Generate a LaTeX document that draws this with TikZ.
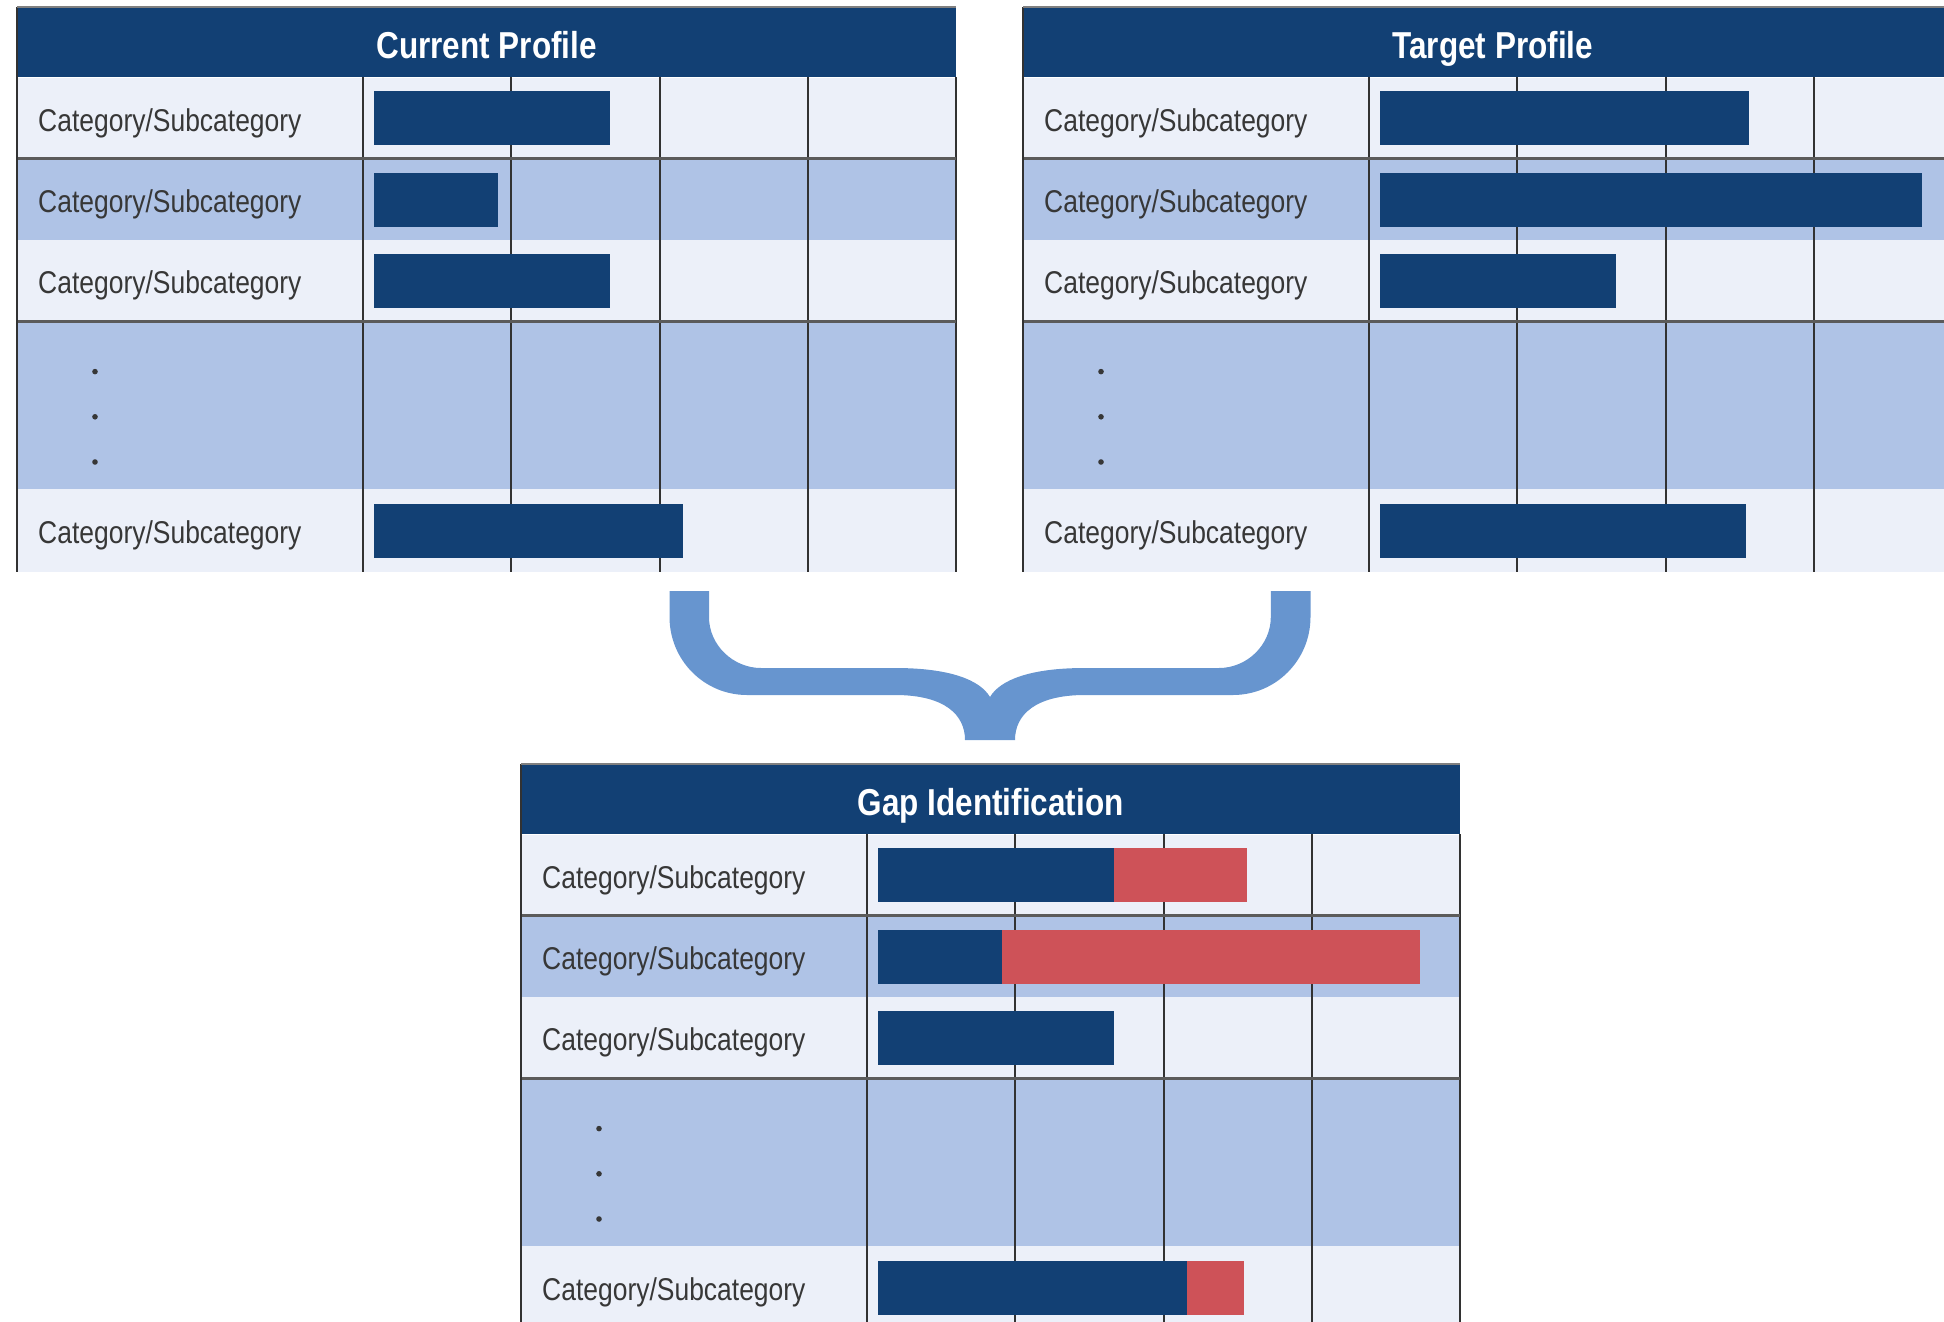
\documentclass[tikz,border=0pt]{standalone}
\usepackage{fontspec}
\setmainfont[FakeStretch=0.84]{Liberation Sans}
\usepackage{tikz}
\usepackage{xcolor}
\usetikzlibrary{positioning, calc}
\definecolor{navy}{RGB}{18,64,116}
\definecolor{rowlight}{RGB}{236,240,249}
\definecolor{rowmid}{RGB}{175,195,230}
\definecolor{gapred}{RGB}{206,82,88}
\definecolor{bracecol}{RGB}{103,149,207}
\definecolor{gridcol}{RGB}{50,50,50}
\definecolor{labelcol}{RGB}{55,55,55}
\tikzset{
  headbox/.style={rectangle,fill=navy,minimum width=939pt,minimum height=70pt,inner sep=0pt,
    text height=33pt,text depth=0pt,text=white,font=\bfseries\fontsize{37.5}{40}\selectfont},
  rowlt/.style={rectangle,fill=rowlight,minimum width=939pt,minimum height=81pt,inner sep=0pt},
  rowmd/.style={rowlt,fill=rowmid},
  catlabel/.style={inner sep=0pt,text height=26pt,text depth=0pt,text=labelcol,
    font=\fontsize{31.5}{34}\selectfont},
  gridline/.style={line width=2pt,gridcol},
  sepline/.style={line width=3pt,gridcol!80},
  topline/.style={line width=2pt,gray},
  barblue/.style={fill=navy},
  bargap/.style={fill=gapred},
}

\begin{document}
\begin{tikzpicture}[x=1pt,y=1pt,node distance=0pt]
  \useasboundingbox (0,0) rectangle (1944,-1322);
  \clip (0,0) rectangle (1944,-1322);
  % the three profile tables
  \foreach \t/\x/\y/\ttl in {cur/17/-7/Current Profile, tgt/1023/-7/Target Profile, gap/521/-764/Gap Identification} {
    \node[headbox,anchor=north west] (\t-head) at (\x,\y) {\ttl};
    \node[rowlt,below=of \t-head] (\t-r1) {};
    \node[rowmd,below=of \t-r1] (\t-r2) {};
    \node[rowlt,below=of \t-r2] (\t-r3) {};
    \node[rowmd,minimum height=167pt,below=of \t-r3] (\t-dots) {};
    \node[rowlt,minimum height=83pt,below=of \t-dots] (\t-r4) {};
    \foreach \r in {r1,r2,r3,r4}
      \node[catlabel,right=21pt of \t-\r.west] (\t-\r-lbl) {Category/Subcategory};
    \foreach \d in {0,1,2}
      \fill[labelcol] ($(\t-dots.north west)+(78,-50-45.2*\d)$) circle (2.8);
    \foreach \k in {0,...,4}
      \draw[gridline] ($(\t-r1.north west)+(346+148.25*\k,0)$) -- ($(\t-r4.south west)+(346+148.25*\k,0)$);
    \draw[sepline] (\t-r1.south west) -- (\t-r1.south east);
    \draw[sepline] (\t-r3.south west) -- (\t-r3.south east);
    \draw[gridline] (\t-head.north west) -- (\t-r4.south west);
    \draw[topline] (\t-head.north west) -- (\t-head.north east);
  }
  % bars: current, target, and current part of the gap
  \foreach \t/\r/\len in {cur/r1/236, cur/r2/124, cur/r3/236, cur/r4/309,
                          tgt/r1/369, tgt/r2/542, tgt/r3/236, tgt/r4/366,
                          gap/r1/236, gap/r2/124, gap/r3/236, gap/r4/309}
    \fill[barblue] ($(\t-\r.west)+(357,-27)$) rectangle ++(\len,54);
  \foreach \r/\from/\len in {r1/236/133, r2/124/418, r4/309/57}
    \fill[bargap] ($(gap-\r.west)+(357+\from,-27)$) rectangle ++(\len,54);
  % brace joining the two profiles
  \fill[bracecol] (669.5,-591) -- (669.5,-617)
    .. controls (669.5,-660) and (704,-695) .. (747,-695) -- (895,-695)
    .. controls (945,-695) and (965,-715) .. (965,-740) -- (1015,-740)
    .. controls (1015,-715) and (1035,-695) .. (1085,-695) -- (1233,-695)
    .. controls (1276,-695) and (1310.5,-660) .. (1310.5,-617) -- (1310.5,-591)
    -- (1270.8,-591) -- (1270.8,-617)
    .. controls (1270.8,-645) and (1247,-668) .. (1219,-668) -- (1085,-668)
    .. controls (1030,-668) and (1000,-680) .. (990,-697)
    .. controls (980,-680) and (950,-668) .. (895,-668) -- (761,-668)
    .. controls (733,-668) and (709,-645) .. (709,-617) -- (709,-591) -- cycle;
\end{tikzpicture}
\end{document}
